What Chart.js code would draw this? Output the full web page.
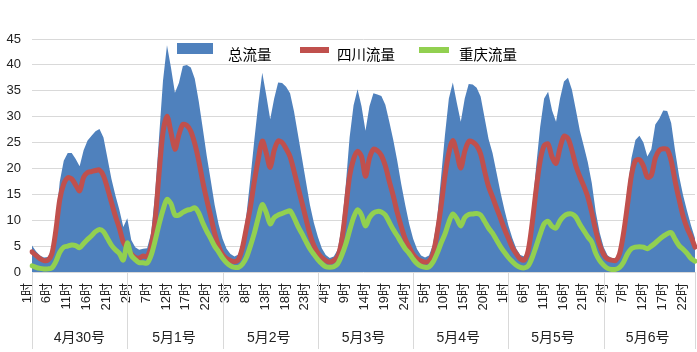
<!DOCTYPE html>
<html>
<head>
<meta charset="utf-8">
<script src="https://cdn.jsdelivr.net/npm/chart.js@4.4.0/dist/chart.umd.min.js"></script>
<style>
html, body { margin: 0; padding: 0; background: #fff; }
canvas { display: block; }
</style>
</head>
<body>
<canvas id="c" width="697" height="352"></canvas>
<script>
// 日期（二级分类）和小时标签
const days = ['4月30号', '5月1号', '5月2号', '5月3号', '5月4号', '5月5号', '5月6号'];
const hourLabels = ['1时', '2时', '3时', '4时', '5时', '6时', '7时', '8时', '9时', '10时', '11时', '12时',
	'13时', '14时', '15时', '16时', '17时', '18时', '19时', '20时', '21时', '22时', '23时', '24时'];
const seriesNames = ['总流量', '四川流量', '重庆流量'];

// 每行一天，24 个小时
const totalFlow = [
	5.1, 4.0, 3.2, 2.8, 2.9, 4.4, 10, 17.5, 21.5, 23, 23, 21.8, 20.4, 23.5, 25.4, 26.3, 27.2, 27.6, 26, 22, 18, 14.8, 12, 8.7,
	10.4, 6.2, 4.8, 4.3, 4.5, 4.6, 7.5, 15, 26, 37, 43.8, 39.5, 34.6, 36.5, 39.8, 40, 39.5, 37.3, 33, 27.8, 22.5, 17.8, 13, 9.2,
	6.4, 4.5, 3.5, 3.0, 3.4, 6, 11, 18, 25.5, 32.5, 38.5, 34.2, 29.5, 33.5, 36.6, 36.5, 35.8, 34.5, 31, 26.5, 22, 17.5, 13, 9.5,
	6.8, 4.6, 3.3, 2.7, 3.0, 4.3, 8.7, 16.5, 26, 32.2, 35.3, 32, 27.3, 32, 34.5, 34.3, 34, 32.3, 29, 25.5, 21.5, 17, 13, 9.3,
	6.4, 4.4, 3.2, 2.8, 3.2, 5.3, 10, 18, 26.3, 33.5, 36.6, 32.7, 29, 33.5, 36.3, 36.2, 35.6, 33.9, 29.8, 25.7, 23, 19.2, 15.4, 12,
	9, 6.5, 4.5, 3.3, 3.0, 5.2, 12, 20.5, 28, 33.5, 34.8, 31.2, 29, 33.5, 36.8, 37.5, 35.2, 31.3, 27.3, 24.3, 21.2, 17.2, 11.6, 7.6,
	4.8, 3.2, 2.7, 2.6, 4.3, 9.4, 16, 22, 25.5, 26.3, 25, 22.3, 23.7, 28.5, 29.6, 31.2, 31.1, 28.8, 23.3, 18.5, 14.8, 11.8, 9, 6.5
];
const sichuanFlow = [
	3.9, 3.2, 2.6, 2.2, 2.3, 3.5, 8, 14, 17, 18.2, 18, 16.8, 15.7, 18.3, 19.2, 19.4, 19.6, 19.7, 18.6, 16.2, 13.5, 10.8, 8.5, 5.8,
	4.6, 3.5, 2.8, 2.7, 3.1, 3.0, 5, 9.9, 19, 27, 30.1, 27, 23.7, 26.5, 28.5, 28.3, 27.2, 24.8, 21.5, 17.5, 14, 10.8, 7.5, 5,
	3.4, 2.6, 2.2, 2.0, 2.4, 4.7, 8.5, 12.5, 17.5, 21.8, 25.3, 23, 20.2, 23.5, 25.3, 25, 23.8, 22.3, 19.5, 16.4, 13.4, 10.3, 7.3, 5.1,
	3.7, 2.8, 2.2, 1.9, 2.2, 3, 6, 12, 18.5, 21.8, 23.3, 22.3, 18.5, 22, 23.7, 23.4, 22.5, 20.5, 17.5, 14.7, 11.5, 8.8, 6.4, 4.8,
	3.4, 2.6, 2.1, 1.9, 2.1, 3.5, 7.3, 12.5, 18.5, 23, 25.4, 23, 20.1, 23.3, 25.2, 25.1, 24.4, 22.8, 19.5, 16.5, 14.5, 12.4, 10.4, 8.3,
	6.5, 4.7, 3.5, 2.5, 2.3, 4.2, 9.5, 16, 21.5, 24.4, 24.7, 22.2, 21, 24, 26.2, 25.8, 23.5, 20.5, 18.4, 16.6, 14.5, 11.5, 8, 5.2,
	3.4, 2.5, 2.3, 2.2, 3.5, 7.5, 13, 18.7, 21.5, 21.7, 20.5, 18.3, 18.7, 22, 23.5, 23.8, 23.7, 21.5, 17.5, 14, 10.8, 8.5, 6.8, 4.8
];
const chongqingFlow = [
	1.2, 0.9, 0.7, 0.6, 0.6, 0.8, 2.0, 3.8, 4.8, 5.0, 5.2, 5.1, 4.7, 5.5, 6.3, 7.0, 7.8, 8.2, 7.8, 6.5, 5.2, 4.3, 3.6, 2.3,
	5.6, 3.2, 2.4, 1.8, 1.8, 1.7, 3.2, 6, 9.2, 12, 14, 13.2, 11, 11, 11.5, 11.9, 12.1, 12.4, 11.4, 9.5, 7.9, 6.5, 5, 3.9,
	2.7, 1.8, 1.2, 0.9, 0.9, 1.5, 2.8, 5, 7.5, 10.5, 13, 11.5, 9.3, 10.5, 11, 11.3, 11.6, 11.8, 10.5, 8.8, 7.4, 5.9, 4.5, 3.4,
	2.4, 1.6, 1.0, 0.9, 1.0, 1.6, 3.2, 5.3, 8, 10.5, 12, 11, 8.9, 10.5, 11.4, 11.7, 11.6, 11, 9.6, 8.2, 7, 5.7, 4.5, 3.6,
	2.5, 1.6, 1.1, 0.9, 1.0, 1.9, 3.5, 5.5, 7.3, 9.6, 11.2, 10.3, 8.9, 10.5, 11.1, 11.2, 11.3, 11, 9.8, 8.5, 7.5, 6.2, 4.9, 3.8,
	2.8, 2, 1.3, 0.9, 0.8, 1.2, 2.8, 5, 7.3, 9.3, 9.8, 8.8, 8.5, 9.9, 10.8, 11.2, 11.2, 10.6, 9.2, 8, 6.8, 5.8, 3.6, 2.2,
	1.3, 0.7, 0.5, 0.5, 0.9, 1.9, 3.5, 4.5, 4.8, 4.9, 4.8, 4.5, 5, 5.6, 6.3, 6.9, 7.4, 7.6, 6.3, 5.1, 4.4, 3.6, 2.6, 2.1
];

const C_BLUE = '#4F81BD';
const C_RED = '#C0504D';
const C_GREEN = '#92D050';
const C_GRID = '#d9d9d9';
const C_TEXT = '#222';

// ось X: 7 дней по 24 часа
const categories = [];
days.forEach(function(){
	hourLabels.forEach(function(h){ categories.push(h); });
});

Chart.defaults.font.family = '"Liberation Sans", "Noto Sans CJK SC", sans-serif';

// разделители дней под осью
const daySeparators = {
	id: 'daySeparators',
	afterDraw: function(chart){
		const ctx = chart.ctx;
		const sx = chart.scales.x;
		const y0 = chart.chartArea.bottom;
		ctx.save();
		ctx.strokeStyle = C_GRID;
		ctx.lineWidth = 1;
		for (let d = 0; d <= days.length; d++){
			const idx = Math.min(d * hourLabels.length, categories.length - 1);
			const px = Math.round(sx.getPixelForValue(idx)) + 0.5;
			ctx.beginPath();
			ctx.moveTo(px, y0);
			ctx.lineTo(px, chart.height - 3);
			ctx.stroke();
		}
		ctx.restore();
	}
};

// легенда поверх области графика, как в оригинале
const legendInside = {
	id: 'legendInside',
	afterDatasetsDraw: function(chart){
		const ctx = chart.ctx;
		const items = [
			{name: seriesNames[0], color: C_BLUE, bx: 177, by: 43, bw: 36, bh: 11, tx: 228},
			{name: seriesNames[1], color: C_RED, bx: 300, by: 47, bw: 29, bh: 6, tx: 337},
			{name: seriesNames[2], color: C_GREEN, bx: 419, by: 47, bw: 30, bh: 6, tx: 459}
		];
		ctx.save();
		ctx.font = '14.5px "Noto Sans CJK SC", "Liberation Sans", sans-serif';
		ctx.textBaseline = 'middle';
		ctx.textAlign = 'left';
		items.forEach(function(it){
			ctx.fillStyle = it.color;
			ctx.fillRect(it.bx, it.by, it.bw, it.bh);
			ctx.fillStyle = '#000';
			ctx.fillText(it.name, it.tx, 54);
		});
		ctx.restore();
	}
};

new Chart(document.getElementById('c'), {
	type: 'line',
	data: {
		labels: categories,
		datasets: [
			{
				label: seriesNames[1],
				data: sichuanFlow,
				borderColor: C_RED,
				borderWidth: 5,
				borderJoinStyle: 'round',
				borderCapStyle: 'round',
				pointRadius: 0,
				tension: 0.3,
				fill: false,
				order: 2
			},
			{
				label: seriesNames[2],
				data: chongqingFlow,
				borderColor: C_GREEN,
				borderWidth: 5,
				borderJoinStyle: 'round',
				borderCapStyle: 'round',
				pointRadius: 0,
				tension: 0.3,
				fill: false,
				order: 1
			},
			{
				label: seriesNames[0],
				data: totalFlow,
				borderColor: C_BLUE,
				backgroundColor: C_BLUE,
				borderWidth: 0,
				pointRadius: 0,
				tension: 0,
				fill: 'origin',
				order: 3
			}
		]
	},
	options: {
		responsive: false,
		animation: false,
		devicePixelRatio: 1,
		layout: {padding: {top: 39, right: 2, bottom: 4, left: 0}},
		plugins: {
			legend: {display: false},
			tooltip: {enabled: false}
		},
		scales: {
			x: {
				type: 'category',
				position: 'bottom',
				weight: 1,
				offset: false,
				grid: {display: false, drawTicks: false},
				border: {display: false},
				ticks: {
					autoSkip: false,
					minRotation: 90,
					maxRotation: 90,
					padding: 11,
					labelOffset: -5,
					color: C_TEXT,
					font: {size: 13},
					callback: function(v, i){
						return i % 5 === 0 ? this.getLabelForValue(v) : '';
					}
				},
				afterFit: function(s){
					s.height = 45;
					s.paddingLeft = 0;
					s.paddingRight = 0;
				}
			},
			x2: {
				type: 'category',
				labels: days,
				position: 'bottom',
				weight: 2,
				offset: true,
				grid: {display: false, drawTicks: false},
				border: {display: false},
				ticks: {
					autoSkip: false,
					maxRotation: 0,
					padding: 13,
					color: C_TEXT,
					font: {size: 14}
				},
				afterFit: function(s){
					s.height = 31;
					s.paddingLeft = 0;
					s.paddingRight = 0;
				}
			},
			y: {
				min: 0,
				max: 45,
				grid: {color: C_GRID, drawTicks: false},
				border: {display: false},
				ticks: {
					stepSize: 5,
					padding: 11,
					color: C_TEXT,
					font: {size: 13}
				},
				afterFit: function(s){
					s.width = 32;
					s.paddingTop = 0;
					s.paddingBottom = 0;
				}
			}
		}
	},
	plugins: [daySeparators, legendInside]
});
</script>
</body>
</html>
